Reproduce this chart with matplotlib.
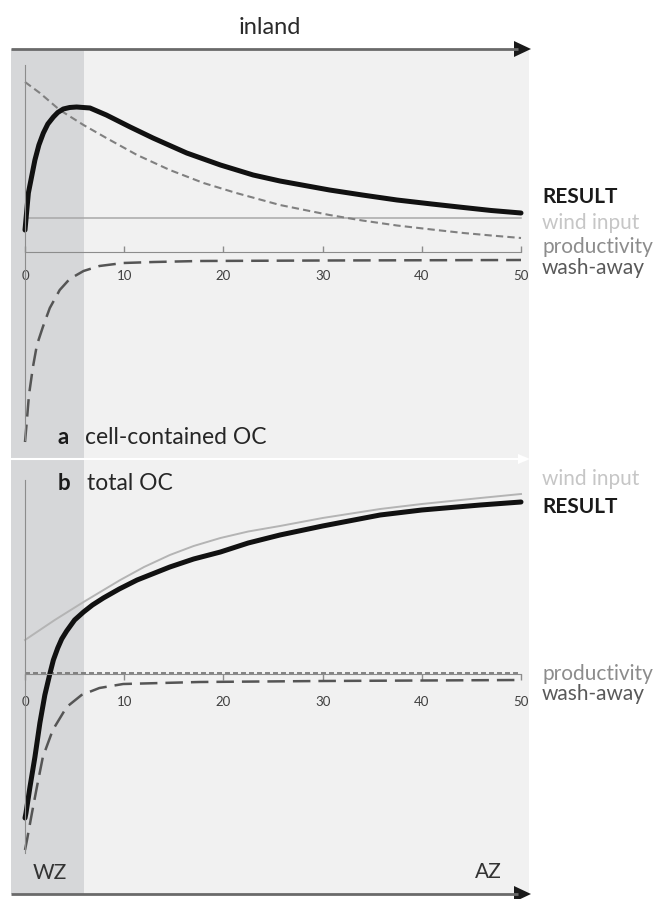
import numpy as np
import matplotlib
matplotlib.use('Agg')
import matplotlib.pyplot as plt

plt.rcParams['font.family'] = ['Lato', 'DejaVu Sans']

# Panel a: cell-contained OC (distance inland vs. relative amount)
xaResult = [0, 0.34, 1.0, 1.4, 1.85, 2.3, 2.86, 3.3, 3.86, 4.5, 5.2, 6.55, 8.2, 10.6, 12.9, 16.3, 19.7, 23.0, 25.7, 30.7, 34, 37.5, 41, 44.2, 47, 50]
yaResult = [2.2, 5.9, 9.2, 10.7, 11.9, 12.8, 13.5, 13.95, 14.3, 14.45, 14.5, 14.4, 13.7, 12.5, 11.4, 9.9, 8.7, 7.7, 7.1, 6.2, 5.7, 5.2, 4.8, 4.45, 4.15, 3.9]
xaProd = [0, 1.5, 3.5, 5.9, 8.2, 11.3, 14.6, 18.0, 21.3, 25.7, 30.7, 34, 37.5, 41, 44.2, 47, 50]
yaProd = [17.0, 15.9, 14.2, 12.7, 11.4, 9.7, 8.2, 6.9, 5.9, 4.7, 3.7, 3.15, 2.65, 2.25, 1.9, 1.65, 1.4]
xaWind = [0, 50]
yaWind = [3.4, 3.4]
xaWash = [0, 0.15, 0.4, 0.8, 1.2, 1.8, 2.5, 3.5, 4.5, 5.9, 7.5, 9.9, 13, 17.6, 30, 50]
yaWash = [-19.0, -17.3, -14.3, -11.5, -9.3, -7.5, -5.6, -3.8, -2.7, -1.9, -1.4, -1.1, -1.0, -0.9, -0.85, -0.8]

# Panel b: total OC
xbWind = [0, 3, 5.9, 9.6, 12, 14.6, 17, 19.7, 22.5, 25.7, 30, 35.8, 40, 45.9, 50]
ybWind = [3.4, 5.4, 7.2, 9.4, 10.7, 11.9, 12.8, 13.6, 14.25, 14.8, 15.6, 16.5, 17.0, 17.6, 18.0]
xbResult = [0, 0.1, 0.5, 1.0, 1.5, 2.0, 2.5, 2.86, 3.3, 3.7, 4.2, 5.0, 5.9, 6.8, 7.9, 9.5, 11.3, 14.6, 17, 19.7, 22.5, 25.7, 30, 35.8, 40, 45.9, 50]
ybResult = [-14.4, -13.9, -11.3, -8.3, -4.9, -2.1, 0.0, 1.4, 2.6, 3.5, 4.3, 5.4, 6.2, 6.9, 7.6, 8.5, 9.4, 10.7, 11.5, 12.2, 13.1, 13.9, 14.8, 15.9, 16.4, 16.9, 17.2]
xbWash = [0, 0.2, 0.7, 1.2, 1.8, 2.8, 4.2, 5.7, 7.5, 9.9, 17.6, 30, 50]
ybWash = [-17.6, -16.6, -13.9, -11.3, -8.3, -5.6, -3.3, -2.1, -1.4, -1.0, -0.8, -0.7, -0.6]
xbProd = [0, 50]
ybProd = [0.15, 0.15]

xTicks = [0, 10, 20, 30, 40, 50]

W, H = 656, 899
fig = plt.figure(figsize=(W / 100, H / 100), dpi=100)

# Background / decoration layer in pixel coordinates
bg = fig.add_axes([0, 0, 1, 1])
bg.set_xlim(0, W)
bg.set_ylim(H, 0)
bg.axis('off')
bg.add_patch(plt.Rectangle((11, 49), 518, 845, color='#f1f1f1', lw=0))
bg.add_patch(plt.Rectangle((11, 49), 73, 845, color='#d6d7d9', lw=0))

# top arrow
bg.plot([11, 518], [49, 49], color='#6a6a6a', lw=2, solid_capstyle='butt')
bg.fill([514, 531, 514], [41, 49, 57], color='#1a1a1a', lw=0)
# bottom arrow
bg.plot([11, 518], [894, 894], color='#6a6a6a', lw=2, solid_capstyle='butt')
bg.fill([514, 531, 514], [886, 894, 902], color='#1a1a1a', lw=0, clip_on=False)
# white separator between panels
bg.plot([11, 520], [459, 459], color='white', lw=1.5)
bg.fill([518, 530, 518], [454, 459, 464], color='white', lw=0)

bg.text(270, 27, 'inland', fontsize=17, color='#2a2a2a', ha='center', va='center')
bg.text(58, 437, 'a', fontsize=16, fontweight='bold', color='#1a1a1a', va='center')
bg.text(85, 437, 'cell-contained OC', fontsize=16.5, color='#262626', va='center')
bg.text(58, 483, 'b', fontsize=16, fontweight='bold', color='#1a1a1a', va='center')
bg.text(87, 483, 'total OC', fontsize=16.5, color='#262626', va='center')
bg.text(50, 873, 'WZ', fontsize=15, color='#333333', ha='center', va='center')
bg.text(488, 872, 'AZ', fontsize=15, color='#333333', ha='center', va='center')

labelX = 542
labelSize = 15
cResult, cWind, cProd, cWash = '#1a1a1a', '#c6c6c6', '#8c8c8c', '#595959'
bg.text(labelX, 203, 'RESULT', fontsize=labelSize, fontweight='bold', color=cResult, va='baseline')
bg.text(labelX, 229, 'wind input', fontsize=labelSize, color=cWind, va='baseline')
bg.text(labelX, 253, 'productivity', fontsize=labelSize, color=cProd, va='baseline')
bg.text(labelX, 274, 'wash-away', fontsize=labelSize, color=cWash, va='baseline')
bg.text(labelX, 485, 'wind input', fontsize=labelSize, color=cWind, va='baseline')
bg.text(labelX, 513, 'RESULT', fontsize=labelSize, fontweight='bold', color=cResult, va='baseline')
bg.text(labelX, 680, 'productivity', fontsize=labelSize, color=cProd, va='baseline')
bg.text(labelX, 700, 'wash-away', fontsize=labelSize, color=cWash, va='baseline')


def makePanel(top, bottom, yzero, spineTop, spineBottom, tickDir, pad):
    ax = fig.add_axes([25 / W, (H - bottom) / H, 496 / W, (bottom - top) / H])
    ax.set_facecolor('none')
    ax.set_xlim(0, 50)
    ax.set_ylim((yzero - bottom) / 10, (yzero - top) / 10)
    for s in ['top', 'right']:
        ax.spines[s].set_visible(False)
    ax.spines['left'].set_bounds(spineBottom, spineTop)
    ax.spines['left'].set_color('#8c8c8c')
    ax.spines['bottom'].set_position(('data', 0))
    ax.spines['bottom'].set_bounds(0, 50)
    ax.spines['bottom'].set_color('#8c8c8c')
    ax.set_yticks([])
    ax.set_xticks(xTicks)
    ax.set_xticklabels([str(t) for t in xTicks])
    ax.tick_params(axis='x', direction=tickDir, length=4, width=1, color='#8c8c8c',
                   labelsize=9.5, labelcolor='#404040', pad=pad)
    return ax


# Panel a
axA = makePanel(60, 450, 252, 18.7, -18.8, 'in', 13)
axA.plot(xaWind, yaWind, color='#a8a8a8', lw=1.1, clip_on=False)
axA.plot(xaProd, yaProd, color='#808080', lw=1.5, dashes=(3.5, 2), clip_on=False)
axA.plot(xaWash, yaWash, color='#555555', lw=1.8, dashes=(7, 3.2), clip_on=False)
axA.plot(xaResult, yaResult, color='#111111', lw=3.6, clip_on=False,
         solid_capstyle='round', solid_joinstyle='round')

# Panel b
axB = makePanel(470, 860, 674, 19.4, -17.9, 'out', 11.5)
axB.plot(xbProd, ybProd, color='#707070', lw=1.2, dashes=(3, 1.8), clip_on=False)
axB.plot(xbWash, ybWash, color='#555555', lw=1.8, dashes=(7, 3.2), clip_on=False)
axB.plot(xbWind, ybWind, color='#b4b4b4', lw=1.4, clip_on=False)
axB.plot(xbResult, ybResult, color='#111111', lw=3.6, clip_on=False,
         solid_capstyle='round', solid_joinstyle='round')

fig.savefig('out.png', dpi=100)
